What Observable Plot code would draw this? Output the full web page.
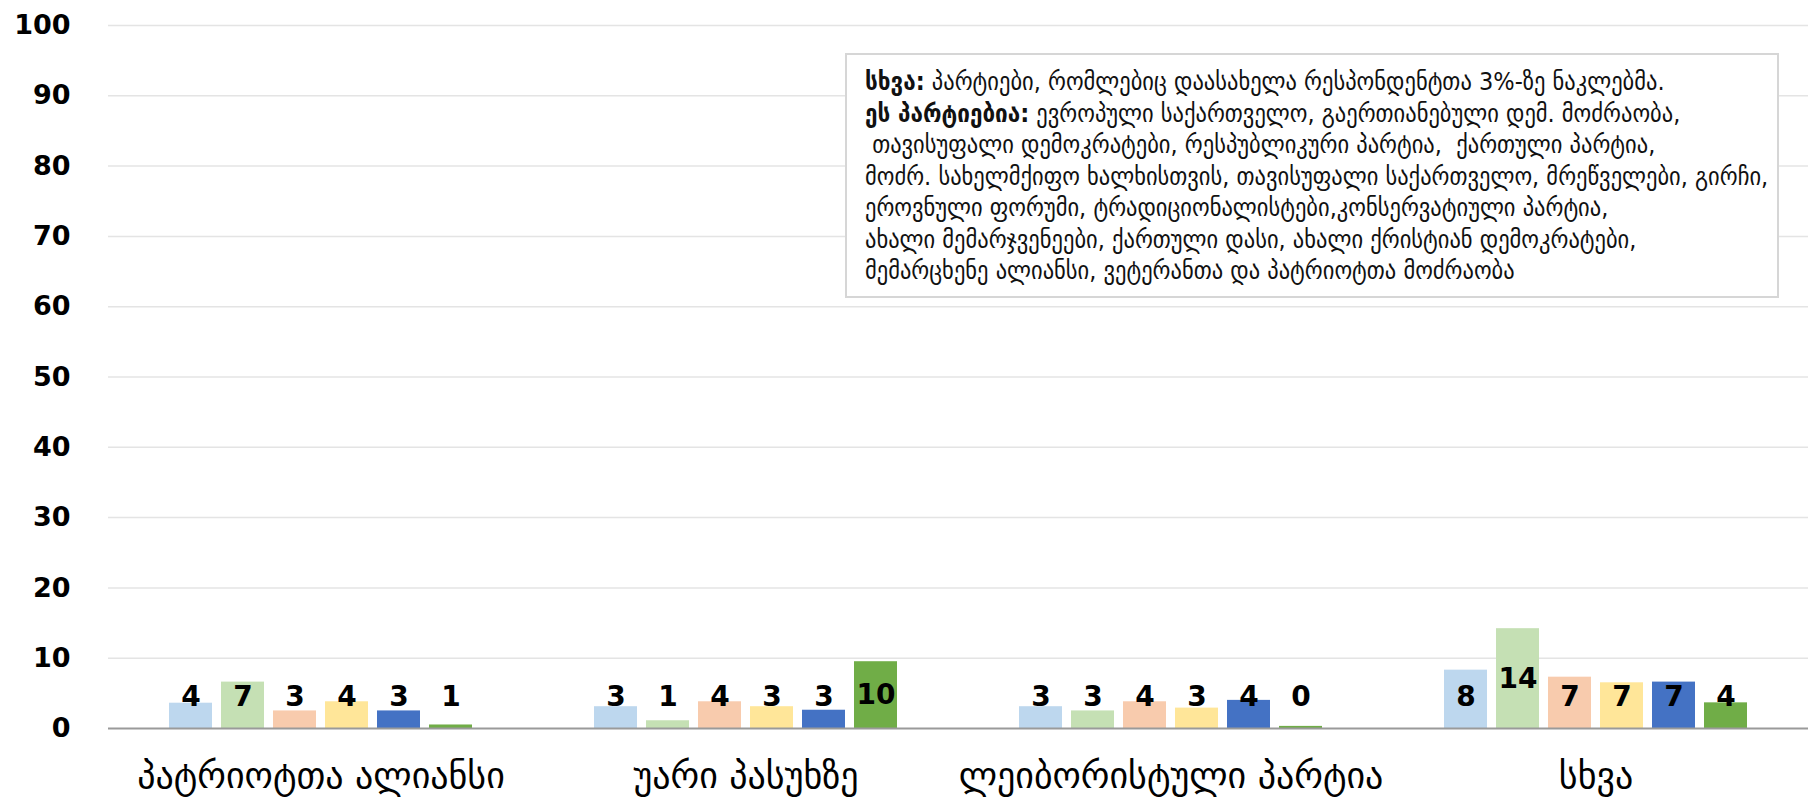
<!DOCTYPE html>
<html>
<head>
<meta charset="utf-8">
<script src="https://cdn.jsdelivr.net/npm/d3@7"></script>
<script src="https://cdn.jsdelivr.net/npm/@observablehq/plot@0.6"></script>
<style>
  html, body { margin: 0; padding: 0; background: #fff; }
  #wrap { position: relative; width: 1808px; height: 797px; overflow: hidden; }
  #note {
    position: absolute; left: 845px; top: 53px; width: 934px; height: 245px;
    border: 2px solid #d6d6d6; background: #fff; box-sizing: border-box;
    padding: 11px 0 0 18px; font-family: "DejaVu Sans Condensed", "DejaVu Sans", sans-serif;
    font-size: 25px; line-height: 31.5px; color: #111; white-space: pre;
  }
</style>
</head>
<body>
<div id="wrap"></div>
<script>
const categories = ["პატრიოტთა ალიანსი", "უარი პასუხზე", "ლეიბორისტული პარტია", "სხვა"];
const seriesKeys = ["A", "B", "C", "D", "E", "F"];
const seriesColors = ["#BDD7EE", "#C5E0B4", "#F8CBAD", "#FFE699", "#4472C4", "#70AD47"];
const valuesA = [3.6, 3.1, 3.1, 8.3];
const valuesB = [6.6, 1.1, 2.5, 14.2];
const valuesC = [2.5, 3.8, 3.8, 7.3];
const valuesD = [3.8, 3.1, 2.9, 6.5];
const valuesE = [2.5, 2.6, 4.0, 6.6];
const valuesF = [0.5, 9.5, 0.3, 3.65];
const yTicks = [0, 10, 20, 30, 40, 50, 60, 70, 80, 90, 100];
const noteLines = [
  ["სხვა:", " პარტიები, რომლებიც დაასახელა რესპონდენტთა 3%-ზე ნაკლებმა."],
  ["ეს პარტიებია:", " ევროპული საქართველო, გაერთიანებული დემ. მოძრაობა,"],
  ["", " თავისუფალი დემოკრატები, რესპუბლიკური პარტია,  ქართული პარტია,"],
  ["", "მოძრ. სახელმქიფო ხალხისთვის, თავისუფალი საქართველო, მრეწველები, გირჩი,"],
  ["", "ეროვნული ფორუმი, ტრადიციონალისტები,კონსერვატიული პარტია,"],
  ["", "ახალი მემარჯვენეები, ქართული დასი, ახალი ქრისტიან დემოკრატები,"],
  ["", "მემარცხენე ალიანსი, ვეტერანთა და პატრიოტთა მოძრაობა"]
];

const allValues = [valuesA, valuesB, valuesC, valuesD, valuesE, valuesF];
const data = [];
seriesKeys.forEach((s, si) => {
  categories.forEach((c, ci) => data.push({category: c, series: s, value: allValues[si][ci]}));
});

const chart = Plot.plot({
  width: 1808,
  height: 797,
  marginLeft: 107,
  marginRight: 0,
  marginTop: 25,
  marginBottom: 69,
  style: {fontFamily: "DejaVu Sans, sans-serif", background: "white", color: "#000", overflow: "visible"},
  fx: {domain: categories, padding: 0, label: null, axis: null},
  x: {domain: seriesKeys, paddingInner: 0.17, paddingOuter: 1.17, axis: null},
  y: {domain: [0, 100], label: null},
  color: {domain: seriesKeys, range: seriesColors},
  marks: [
    Plot.gridY(yTicks.slice(1), {stroke: "#e4e4e4", strokeOpacity: 1, strokeWidth: 1.5}),
    Plot.axisY(yTicks, {tickSize: 0, tickPadding: 38, fontSize: 27, fontWeight: "bold", label: null}),
    Plot.barY(data, {fx: "category", x: "series", y: "value", fill: "series"}),
    Plot.ruleY([0], {stroke: "#9a9a9a", strokeWidth: 2}),
    Plot.text(data, {
      fx: "category", x: "series",
      y: d => Math.max(4.5, d.value / 2),
      text: d => String(Math.round(d.value)),
      fontSize: 28, fontWeight: "bold", fill: "#000"
    }),
    Plot.axisFx({anchor: "bottom", tickSize: 0, tickPadding: 34, fontSize: 36, label: null})
  ]
});

const wrap = document.getElementById("wrap");
wrap.appendChild(chart);
const note = document.createElement("div");
note.id = "note";
noteLines.forEach(([b, t]) => {
  const line = document.createElement("div");
  if (b) { const s = document.createElement("b"); s.textContent = b; line.appendChild(s); }
  line.appendChild(document.createTextNode(t));
  note.appendChild(line);
});
wrap.appendChild(note);
</script>
</body>
</html>
